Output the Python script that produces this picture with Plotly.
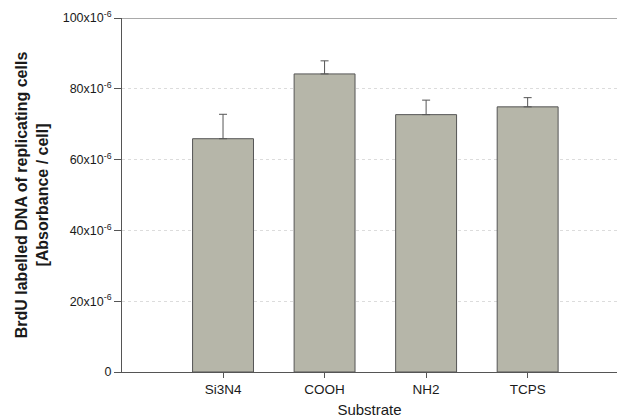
import plotly.graph_objects as go

categories = ["Si3N4", "COOH", "NH2", "TCPS"]
values = [65.9e-6, 84.2e-6, 72.7e-6, 74.9e-6]
errors = [6.9e-6, 3.7e-6, 4.1e-6, 2.6e-6]
ytick_vals = [0, 20e-6, 40e-6, 60e-6, 80e-6, 100e-6]
ytick_text = ["0", "20x10<sup>-6</sup>", "40x10<sup>-6</sup>", "60x10<sup>-6</sup>",
              "80x10<sup>-6</sup>", "100x10<sup>-6</sup>"]

fig = go.Figure(go.Bar(
    x=categories, y=values, width=0.6,
    marker=dict(color="#b6b6a9", line=dict(color="#555555", width=1)),
    error_y=dict(type="data", array=errors, symmetric=False, arrayminus=[0]*4,
                 color="#555555", thickness=1, width=4),
))

font = "Liberation Sans, Arial, sans-serif"
fig.update_layout(
    width=617, height=418,
    margin=dict(l=122, r=0, t=18, b=46),
    paper_bgcolor="white", plot_bgcolor="white",
    font=dict(family=font, size=13, color="#1a1a1a"),
    showlegend=False,
    xaxis=dict(range=[-0.995, 3.88], showline=True, linecolor="#555555", linewidth=1,
               ticks="outside", ticklen=5, tickcolor="#555555", showgrid=False,
               automargin=False, tickfont=dict(size=13.5),
               title=dict(text="Substrate", font=dict(size=15), standoff=8)),
    yaxis=dict(range=[0, 100e-6], tickvals=ytick_vals, ticktext=ytick_text,
               showline=True, linecolor="#555555", linewidth=1,
               ticks="outside", ticklen=7, tickcolor="#555555",
               showgrid=True, gridcolor="#dcdcdc", griddash="dot", gridwidth=1,
               zeroline=False, automargin=False, tickfont=dict(size=12.5),
               title=dict(text="<b>BrdU labelled DNA of replicating cells<br>[Absorbance / cell]</b>",
                          font=dict(size=16), standoff=10)),
    shapes=[dict(type="line", xref="paper", yref="y", x0=0, x1=1, y0=100e-6, y1=100e-6,
                 line=dict(color="#555555", width=1))],
)
fig.write_html("out.html", config={"displayModeBar": False},
               post_script="document.body.style.margin='0';")
